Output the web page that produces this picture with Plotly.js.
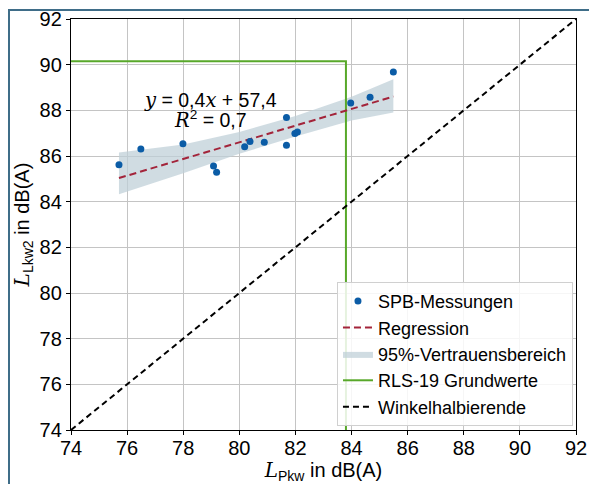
<!DOCTYPE html>
<html>
<head>
<meta charset="utf-8">
<script src="https://cdn.plot.ly/plotly-3.0.1.min.js"></script>
<style>
  html, body { margin: 0; padding: 0; background: #ffffff; }
  #wrap { position: relative; width: 589px; height: 484px; overflow: hidden; }
  #frame { position: absolute; left: 8px; top: 9px; width: 600px; height: 500px;
           border-left: 2px solid #3f6d88; border-top: 2px solid #3f6d88; pointer-events: none; }
  #chart { position: absolute; left: 0; top: 0; width: 589px; height: 484px; }
</style>
</head>
<body>
<div id="wrap">
  <div id="chart"></div>
  <div id="frame"></div>
</div>
<script>
// SPB measurements: L_Pkw (x) vs L_Lkw2 (y), in dB(A)
const spbX = [75.71, 76.49, 77.99, 79.08, 79.19, 80.19, 80.38, 80.89, 81.68, 81.68, 81.98, 82.07, 83.97, 84.66, 85.49];
const spbY = [85.62, 86.31, 86.54, 85.56, 85.29, 86.41, 86.63, 86.60, 87.69, 86.47, 86.99, 87.05, 88.32, 88.57, 89.68];

// Linear regression y = slope * x + intercept
const regSlope = 0.365;
const regIntercept = 57.4;
const rSquared = 0.7;

// 95% confidence band (upper / lower edge) along L_Pkw
const bandX     = [75.71, 78.0, 80.0, 82.0, 84.0, 85.49];
const bandUpper = [86.15, 86.50, 87.05, 87.75, 88.60, 89.36];
const bandLower = [84.32, 85.25, 86.10, 86.85, 87.55, 87.90];

// RLS-19 base values
const rlsPkw = 83.8;
const rlsLkw2 = 90.15;

// Axis range and ticks
const axisMin = 74, axisMax = 92;
const tickVals = [74, 76, 78, 80, 82, 84, 86, 88, 90, 92];

const xMinData = Math.min(...spbX), xMaxData = Math.max(...spbX);
const regX = [xMinData, xMaxData];
const regY = regX.map(v => regSlope * v + regIntercept);

const fmt = v => v.toFixed(1).replace('.', ',');

const SANS = 'Liberation Sans, Arial, sans-serif';
const tickFont = { family: SANS, size: 20, color: '#000' };
const mathVar = s => '<i style="font-family:DejaVu Serif">' + s + '</i>';

const traces = [
  {
    x: bandX.concat(bandX.slice().reverse()),
    y: bandUpper.concat(bandLower.slice().reverse()),
    type: 'scatter', mode: 'lines', fill: 'toself',
    fillcolor: 'rgba(190,207,215,0.72)', line: { width: 0, color: 'rgba(0,0,0,0)' },
    name: '95%-Vertrauensbereich', legendrank: 3, hoverinfo: 'skip'
  },
  {
    x: [axisMin, rlsPkw, rlsPkw], y: [rlsLkw2, rlsLkw2, axisMin],
    type: 'scatter', mode: 'lines', line: { color: '#58a82a', width: 2 },
    name: 'RLS-19 Grundwerte', legendrank: 4
  },
  {
    x: [axisMin, axisMax], y: [axisMin, axisMax],
    type: 'scatter', mode: 'lines', line: { color: '#000', width: 2, dash: '6px,4px' },
    name: 'Winkelhalbierende', legendrank: 5
  },
  {
    x: regX, y: regY,
    type: 'scatter', mode: 'lines', line: { color: '#a3243a', width: 2, dash: '7px,4px' },
    name: 'Regression', legendrank: 2
  },
  {
    x: spbX, y: spbY,
    type: 'scatter', mode: 'markers', marker: { color: '#0b5ca6', size: 7 },
    name: 'SPB-Messungen', legendrank: 1
  }
];

const axisCommon = {
  range: [axisMin, axisMax], tickvals: tickVals, ticktext: tickVals.map(String),
  showgrid: true, gridcolor: '#c4c4c4', gridwidth: 1,
  showline: true, mirror: true, linecolor: '#000', linewidth: 1.2,
  ticks: 'outside', ticklen: 4, tickwidth: 1, tickcolor: '#000',
  zeroline: false, tickfont: tickFont
};

const layout = {
  width: 589, height: 484,
  margin: { l: 71, r: 13, t: 19, b: 54 },
  paper_bgcolor: '#fff', plot_bgcolor: '#fff',
  showlegend: true,
  legend: {
    x: 0.994, y: 0.01, xanchor: 'right', yanchor: 'bottom',
    bgcolor: 'rgba(255,255,255,0.85)', bordercolor: '#d0d0d0', borderwidth: 1,
    font: { family: SANS, size: 18, color: '#000' },
    tracegroupgap: 0, itemwidth: 30
  },
  xaxis: Object.assign({}, axisCommon, {
    ticklabelstandoff: -4,
    title: { text: mathVar('L') + '<sub>Pkw</sub> in dB(A)',
             font: { family: SANS, size: 20, color: '#000' }, standoff: 2 }
  }),
  yaxis: Object.assign({}, axisCommon, {
    title: { text: mathVar('L') + '<sub>Lkw2</sub> in dB(A)',
             font: { family: SANS, size: 20, color: '#000' }, standoff: 4 }
  }),
  annotations: [
    {
      xref: 'x', yref: 'y', x: 78.97, y: 88.44, xanchor: 'center', yanchor: 'middle',
      showarrow: false,
      font: { family: SANS, size: 19.5, color: '#000' },
      text: mathVar('y') + ' = ' + fmt(regSlope) + mathVar('x') + ' + ' + fmt(regIntercept)
    },
    {
      xref: 'x', yref: 'y', x: 78.97, y: 87.58, xanchor: 'center', yanchor: 'middle',
      showarrow: false,
      font: { family: SANS, size: 19.5, color: '#000' },
      text: mathVar('R') + '<sup>2</sup> = ' + fmt(rSquared)
    }
  ]
};

Plotly.newPlot('chart', traces, layout, { displayModeBar: false, staticPlot: true });
</script>
</body>
</html>
